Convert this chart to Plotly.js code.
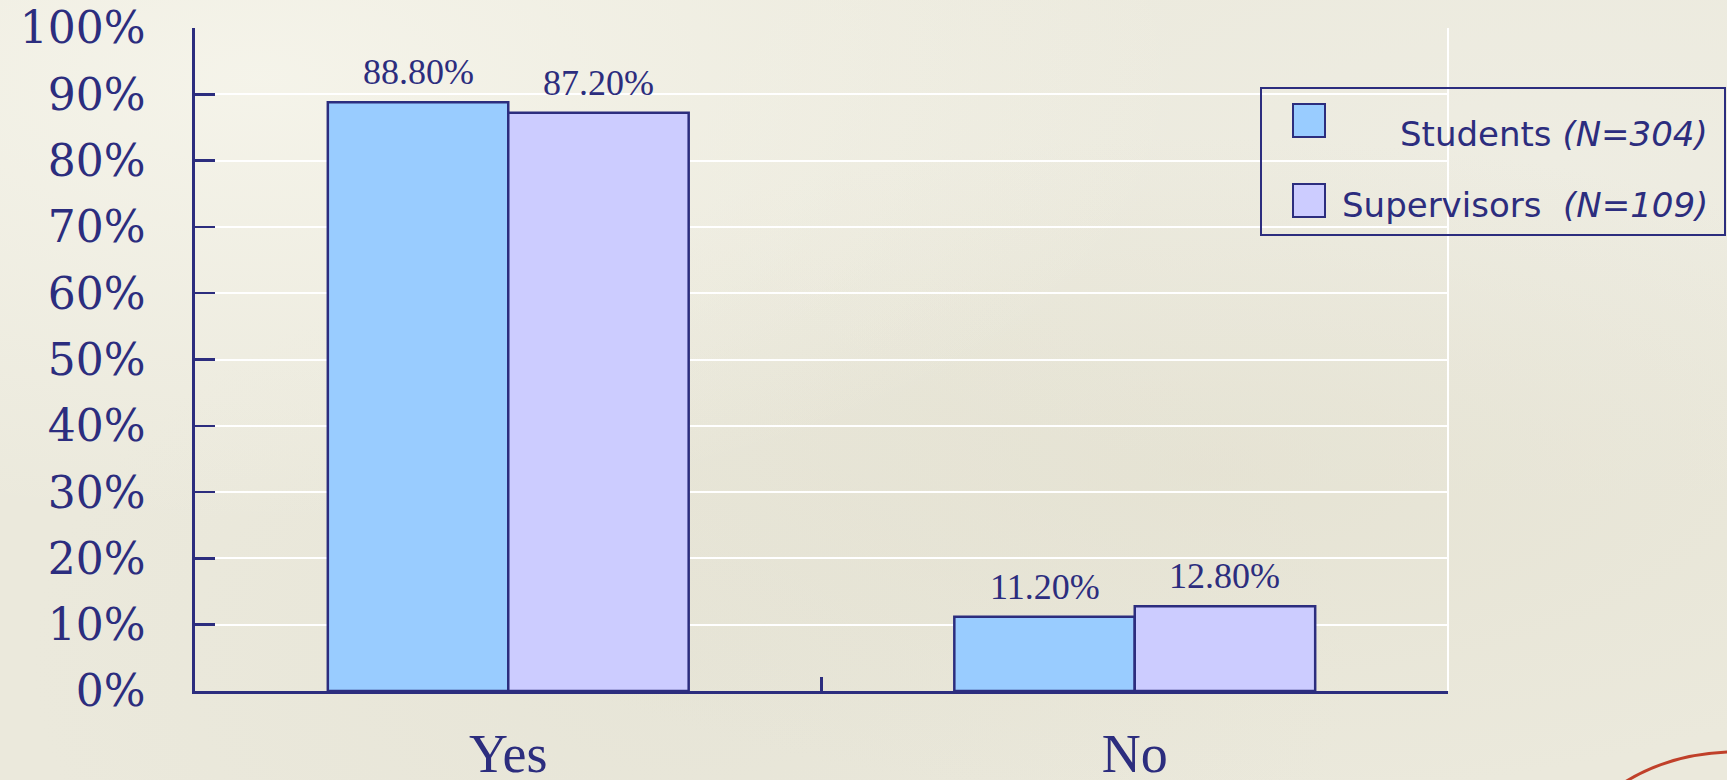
<!DOCTYPE html>
<html>
<head>
<meta charset="utf-8">
<script src="https://cdn.plot.ly/plotly-3.0.1.min.js"></script>
<style>
  html, body { margin: 0; padding: 0; }
  body {
    width: 1727px; height: 780px; overflow: hidden;
    background-color: #ebe9dc;
    background-image:
      radial-gradient(ellipse at 15% 10%, rgba(248,247,238,0.75), rgba(248,247,238,0) 45%),
      radial-gradient(ellipse at 70% 60%, rgba(225,222,205,0.55), rgba(225,222,205,0) 50%),
      radial-gradient(ellipse at 90% 20%, rgba(240,239,230,0.6), rgba(240,239,230,0) 40%),
      radial-gradient(ellipse at 40% 85%, rgba(228,226,212,0.6), rgba(228,226,212,0) 45%);
  }
  #chart { width: 1727px; height: 780px; }
</style>
</head>
<body>
<div id="chart"></div>
<script>
// ---- data ----
const categories = ['Yes', 'No'];
const seriesNames = ['Students', 'Supervisors'];
const seriesN = [304, 109];
const studentsValues = [88.8, 11.2];
const supervisorsValues = [87.2, 12.8];
const yTickValues = [0, 10, 20, 30, 40, 50, 60, 70, 80, 90, 100];

// ---- style ----
const navy = '#2c2d7e';
const barColors = ['#99ccff', '#ccccff'];
const W = 1727, H = 780;
const M = { l: 195, r: 279, t: 28, b: 89 };
const PW = W - M.l - M.r, PH = H - M.t - M.b;
const X = px => (px - M.l) / PW;
const Y = py => (H - M.b - py) / PH;

const BAR_W = 0.288;           // bar width in category units
const offsets = [-BAR_W, 0];   // left edge offsets of each series within a category

const valuesBySeries = [studentsValues, supervisorsValues];
const traces = seriesNames.map((name, i) => ({
  type: 'bar',
  name: name,
  x: categories,
  y: valuesBySeries[i],
  width: BAR_W,
  offset: offsets[i],
  marker: { color: barColors[i], line: { color: navy, width: 2.5 } },
  hoverinfo: 'none'
}));

// value labels above bars (data coordinates)
const valueLabels = [];
valuesBySeries.forEach((vals, s) => {
  vals.forEach((v, c) => {
    valueLabels.push({
      xref: 'x', yref: 'y',
      x: c + offsets[s] + BAR_W / 2, y: v,
      xanchor: 'center', yanchor: 'bottom', yshift: 8,
      showarrow: false,
      text: v.toFixed(2) + '%',
      font: { family: 'Liberation Serif', size: 36, color: navy }
    });
  });
});

const legendRows = [
  { y: 134, sq0: 104, sq1: 137, text: seriesNames[0] + ' <i>(N=' + seriesN[0] + ')</i>' },
  { y: 205, sq0: 184, sq1: 217, text: seriesNames[1] + '&nbsp; <i>(N=' + seriesN[1] + ')</i>' }
];

const shapes = [
  { type: 'line', xref: 'paper', yref: 'paper', x0: 1, x1: 1, y0: 0, y1: 1,
    line: { color: '#ffffff', width: 2 }, layer: 'below' },
  { type: 'rect', xref: 'paper', yref: 'paper', x0: X(1261), x1: X(1725), y0: Y(235), y1: Y(88),
    line: { color: navy, width: 2 }, fillcolor: 'rgba(0,0,0,0)' },
  { type: 'path', xref: 'paper', yref: 'paper',
    path: 'M ' + X(1625) + ',' + Y(782) + ' Q ' + X(1670) + ',' + Y(754) + ' ' + X(1730) + ',' + Y(752),
    line: { color: '#c0402a', width: 3 } }
];
legendRows.forEach((r, i) => {
  shapes.push({ type: 'rect', xref: 'paper', yref: 'paper',
    x0: X(1293), x1: X(1325), y0: Y(r.sq1), y1: Y(r.sq0),
    fillcolor: barColors[i], line: { color: navy, width: 2 } });
});

const legendTexts = legendRows.map(r => ({
  xref: 'paper', yref: 'paper', x: X(1710), y: Y(r.y),
  xanchor: 'right', yanchor: 'middle', showarrow: false,
  text: r.text,
  font: { family: 'DejaVu Sans', size: 34, color: navy }
}));

const layout = {
  width: W, height: H,
  margin: M,
  paper_bgcolor: 'rgba(0,0,0,0)',
  plot_bgcolor: 'rgba(0,0,0,0)',
  showlegend: false,
  barmode: 'overlay',
  xaxis: {
    type: 'category',
    range: [-0.5, 1.5],
    showgrid: false,
    showline: true, linecolor: navy, linewidth: 2.7,
    ticks: 'inside', tickson: 'boundaries', ticklen: 14, tickwidth: 2.5, tickcolor: navy,
    tickfont: { family: 'Liberation Serif', size: 54, color: navy },
    ticklabelstandoff: 13,
    fixedrange: true
  },
  yaxis: {
    range: [0, 100],
    tickvals: yTickValues,
    ticktext: yTickValues.map(v => v + '%'),
    showgrid: true, gridcolor: '#ffffff', gridwidth: 2,
    zeroline: false,
    showline: true, linecolor: navy, linewidth: 2.7,
    ticks: 'inside', ticklen: 20, tickwidth: 2.5, tickcolor: navy,
    tickfont: { family: 'DejaVu Serif', size: 44, color: navy },
    ticklabelstandoff: 38,
    fixedrange: true
  },
  shapes: shapes,
  annotations: valueLabels.concat(legendTexts)
};

Plotly.newPlot('chart', traces, layout, { staticPlot: true, displayModeBar: false });
</script>
</body>
</html>
